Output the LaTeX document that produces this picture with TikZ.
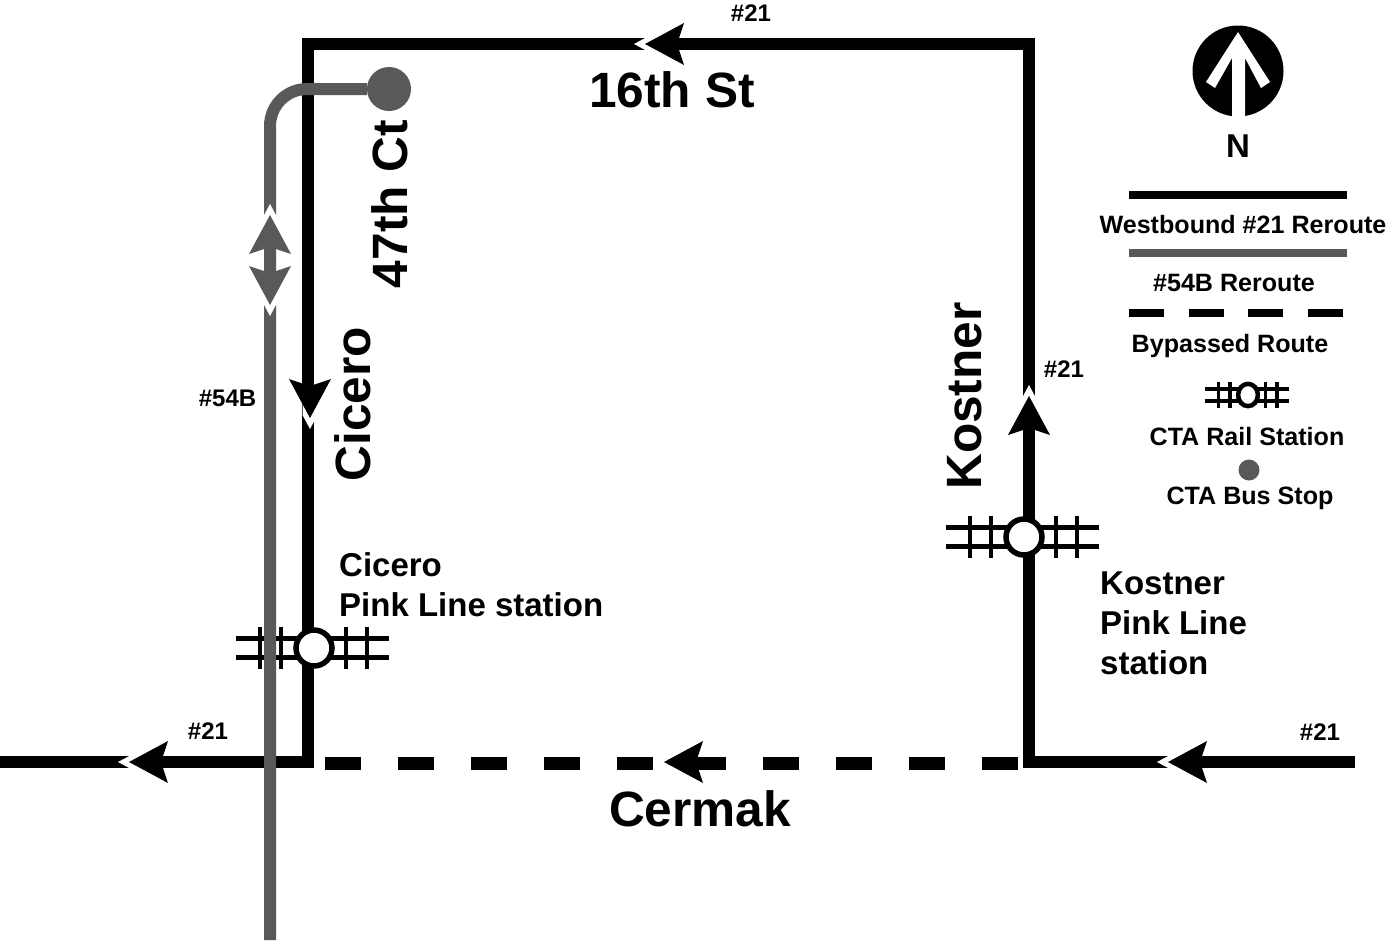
\documentclass[tikz,border=0pt]{standalone}
\usepackage{fontspec}
\setmainfont{Liberation Sans}
\definecolor{busgray}{HTML}{58595B}
\newcommand{\labelsize}[1]{\fontsize{#1}{#1}\bfseries\selectfont}
\tikzset{
    reroute/.style={line width=12pt},
    busroute/.style={line width=12pt, busgray},
    bypassed/.style={line width=13pt, dash pattern=on 36pt off 37pt},
    roadlabel/.style={font=\labelsize{49.6}, inner sep=0pt},
    stationlabel/.style={font=\labelsize{33}, inner sep=0pt, anchor=west, align=left},
    routeno/.style={font=\labelsize{24}, inner sep=0pt},
    legendlabel/.style={font=\labelsize{25.1}, inner sep=0pt},
    pics/headmark/.style={code={
        \fill[white] (11,0) -- (-3,-7.5) -- (-20,-7.5) -- (-20,7.5) -- (-3,7.5) -- cycle;
        \fill[#1] (0,0) -- (-39,-21) -- (-32,0) -- (-39,21) -- cycle;
    }},
    pics/railmark/.style={code={
        \draw[line width=#1] (-78,-9.5) -- (75,-9.5) (-78,9.5) -- (75,9.5);
        \foreach \x in {-54,-33,32,53}
            \draw[line width=#1] (\x,-21) -- (\x,21);
        \draw[line width=#1+1pt, fill=white] (0,0) circle (18pt);
    }},
}
\begin{document}
\begin{tikzpicture}[x=1pt, y=-1pt]
    \useasboundingbox (0,0) rectangle (1387,940);

    % Corners of the routes
    \coordinate (westend) at (0,762);
    \coordinate (ciceroturn) at (308,762);
    \coordinate (ciceronorth) at (308,44);
    \coordinate (kostnernorth) at (1029,44);
    \coordinate (kostnerturn) at (1029,762);
    \coordinate (eastend) at (1355,762);
    \coordinate (cermakwest) at (325,763.5);
    \coordinate (cermakeast) at (1018,763.5);
    \coordinate (busfoot) at (270,940);

    % Routes
    \draw[bypassed] (cermakwest) -- (cermakeast);
    \draw[reroute] (westend) -- (ciceroturn) -- (ciceronorth) -- (kostnernorth) -- (kostnerturn) -- (eastend);

    % Stations
    \pic at (314,648) {railmark=4.5pt};
    \pic at (1024,537) {railmark=4.5pt};

    % Bus route
    \node[circle, fill=busgray, minimum size=44pt, inner sep=0pt] (stop47) at (389,89) {};
    \draw[busroute, rounded corners=37pt] (busfoot) |- (stop47);

    % Arrowheads
    \foreach \x/\y/\turn in {645/44/180, 310/418/-90, 1029/396/90, 129/762/180, 1168/762/180, 664/762/180}
        \pic[rotate=\turn] at (\x,\y) {headmark=black};
    \pic[rotate=90] at (270,215) {headmark=busgray};
    \pic[rotate=-90] at (270,305) {headmark=busgray};

    % Street names
    \node[roadlabel] (sixteenth) at (672,90) {16th St};
    \node[roadlabel, rotate=90] (fortyseventh) at (390,204) {47th Ct};
    \node[roadlabel, rotate=90] (cicero) at (353,404) {Cicero};
    \node[roadlabel, rotate=90] (kostner) at (965,396) {Kostner};
    \node[roadlabel] (cermak) at (700,809) {Cermak};

    % Stations and route numbers
    \node[stationlabel] (ciceropink) at (339,585) {Cicero\\[7pt]Pink Line station};
    \node[stationlabel] (kostnerpink) at (1100,623) {Kostner\\[7pt]Pink Line\\[7pt]station};
    \foreach \x/\y [count=\n] in {751/13, 1064/369, 208/731, 1320/732}
        \node[routeno] (route\n) at (\x,\y) {\#21};
    \node[routeno] (route54) at (227.5,398) {\#54B};

    % North arrow
    \fill (1238,71) circle (45.5pt);
    \fill[white] (1238,32) -- (1270,82) -- (1261,88) -- (1245,58) -- (1245,117) -- (1232,117) -- (1232,58) -- (1215,88) -- (1206,82) -- cycle;
    \node[font=\labelsize{33}, inner sep=0pt] (north) at (1238,146) {N};

    % Legend
    \coordinate (keywest1) at (1129,195);
    \coordinate (keyeast1) at (1347,195);
    \coordinate (keywest2) at (1129,253);
    \coordinate (keyeast2) at (1347,253);
    \coordinate (keywest3) at (1129,313);
    \coordinate (keyeast3) at (1344,313);
    \draw[line width=8pt] (keywest1) -- (keyeast1);
    \draw[line width=8pt, busgray] (keywest2) -- (keyeast2);
    \draw[line width=8pt, dash pattern=on 35pt off 24.5pt] (keywest3) -- (keyeast3);
    \pic[xscale=.55, yscale=.62] at (1248,395) {railmark=3.5pt};
    \node[circle, fill=busgray, minimum size=21pt, inner sep=0pt] (keystop) at (1249,470) {};
    \node[legendlabel] (key1) at (1243,225) {Westbound \#21 Reroute};
    \node[legendlabel] (key2) at (1234,283) {\#54B Reroute};
    \node[legendlabel] (key3) at (1230,346) {Bypassed Route};
    \node[legendlabel] (key4) at (1247,437) {CTA Rail Station};
    \node[legendlabel] (key5) at (1250,498) {CTA Bus Stop};
\end{tikzpicture}
\end{document}
